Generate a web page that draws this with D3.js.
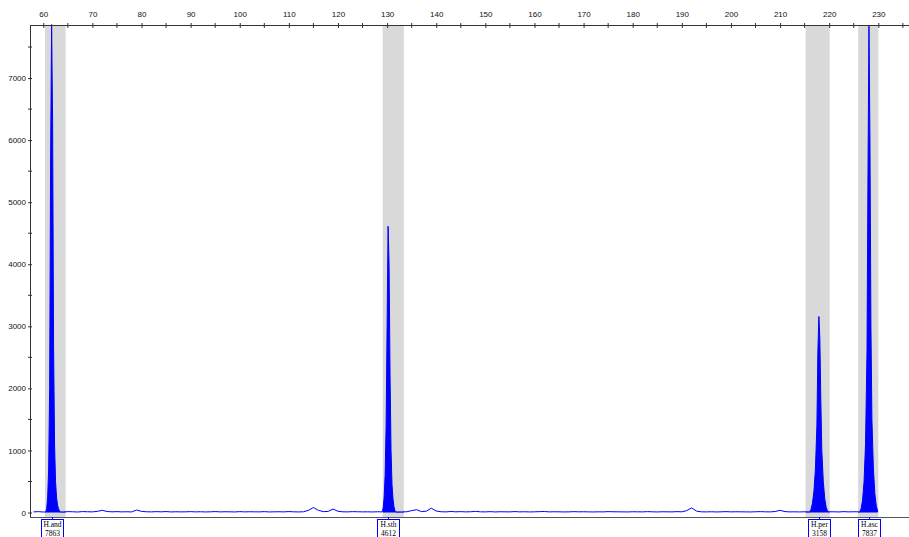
<!DOCTYPE html>
<html>
<head>
<meta charset="utf-8">
<script src="https://cdn.jsdelivr.net/npm/d3@7"></script>
<style>
  body { margin: 0; background: #fff; }
  svg { display: block; }
  .axis text { font-family: "Liberation Sans", Arial, sans-serif; font-size: 8px; fill: #111; }
  .axis line, .axis path { stroke: #333; }
  .lbl text { font-family: "Liberation Serif", "Times New Roman", serif; font-size: 7.5px; fill: #000; }
</style>
</head>
<body>
<svg id="chart" width="909" height="537"></svg>
<script>
// size axis ticks (bp) and RFU ticks
const sizeTicks = [60, 70, 80, 90, 100, 110, 120, 130, 140, 150, 160, 170, 180, 190, 200, 210, 220, 230];
const sizeMinor = [65, 75, 85, 95, 105, 115, 125, 135, 145, 155, 165, 175, 185, 195, 205, 215, 225, 235];
const rfuTicks = [0, 1000, 2000, 3000, 4000, 5000, 6000, 7000];
const rfuMinor = [500, 1500, 2500, 3500, 4500, 5500, 6500, 7500];

// bins (grey windows) in bp
const bins = [[60.35, 64.56], [129.1, 133.4], [215.2, 220.1], [225.9, 230.0]];

// called peaks
const peakNames = ["H.and", "H.sth", "H.per", "H.asc"];
const peakSizes = [61.7, 130.2, 217.9, 228.1];
const peakHeights = [7863, 4612, 3158, 7837];

// baseline trace, one reading per bp from 58 to 236
const baseStart = 58;
const baseRfu = [
  10, 14, 8, 12, 16, 11, 9, 14, 12, 8, 15, 12, 10, 18, 35, 16, 11, 14, 10, 12,
  9, 40, 18, 12, 10, 14, 11, 15, 9, 12, 10, 11, 14, 10, 12, 9, 11, 15, 10, 12,
  11, 9, 14, 10, 12, 11, 10, 14, 9, 11, 12, 10, 15, 11, 9, 12, 35, 80, 36, 14,
  18, 55, 20, 11, 10, 14, 12, 10, 11, 9, 12, 14, 10, 11, 9, 10, 12, 30, 45, 14,
  22, 70, 24, 12, 10, 16, 11, 14, 10, 12, 18, 11, 10, 14, 9, 12, 11, 10, 15, 10,
  12, 9, 11, 14, 16, 10, 12, 11, 9, 10, 14, 11, 12, 10, 9, 11, 10, 14, 12, 11,
  10, 9, 12, 11, 10, 14, 11, 9, 12, 11, 10, 14, 11, 30, 75, 22, 11, 10, 12, 9,
  11, 14, 10, 12, 11, 10, 9, 12, 14, 11, 10, 16, 35, 14, 10, 11, 9, 12, 10, 14,
  11, 10, 12, 11, 9, 14, 10, 12, 11
];

// peak profiles [bp, rfu]
const peak1 = [[60.5, 10], [60.7, 60], [60.9, 250], [61.1, 700], [61.3, 2000], [61.5, 5800], [61.7, 7863], [61.9, 6300],
  [62.1, 2700], [62.3, 1100], [62.5, 500], [62.7, 250], [62.9, 120], [63.1, 60], [63.3, 30], [63.5, 10]];
const peak2 = [[129.0, 10], [129.2, 80], [129.4, 250], [129.6, 600], [129.8, 1400], [130.0, 3000], [130.2, 4612], [130.4, 4000],
  [130.6, 2200], [130.8, 1000], [131.0, 450], [131.2, 220], [131.4, 90], [131.6, 30], [131.8, 10]];
const peak3 = [[216.0, 10], [216.3, 50], [216.6, 150], [216.9, 350], [217.2, 700], [217.5, 1400], [217.7, 2600], [217.9, 3158],
  [218.1, 2800], [218.3, 1800], [218.5, 1000], [218.8, 500], [219.1, 220], [219.4, 80], [219.7, 15]];
const peak4 = [[226.2, 10], [226.5, 60], [226.8, 200], [227.1, 500], [227.4, 1100], [227.7, 2600], [227.9, 5500], [228.1, 7837],
  [228.3, 6000], [228.5, 3000], [228.7, 1500], [229.0, 700], [229.3, 300], [229.6, 100], [229.9, 15]];
const peaks = [peak1, peak2, peak3, peak4];

const W = 909, H = 537;
const x0 = 30, yTop = 25, yBottom = 517;

const svg = d3.select("#chart");

const xScale = d3.scaleLinear().domain([57.3, 236.25]).range([x0, W]);
const yScale = d3.scaleLinear().domain([0, 7855]).range([512.5, yTop]);

// build the trace: baseline readings outside peaks, plus peak profiles
let trace = baseRfu.map((v, i) => [baseStart + i, v])
  .filter(d => !peaks.some(p => d[0] >= p[0][0] && d[0] <= p[p.length - 1][0]));
peaks.forEach(p => { trace = trace.concat(p); });
trace.sort((a, b) => a[0] - b[0]);

// grey bins
svg.append("g").selectAll("rect")
  .data(bins)
  .join("rect")
  .attr("x", d => xScale(d[0]))
  .attr("width", d => xScale(d[1]) - xScale(d[0]))
  .attr("y", yTop)
  .attr("height", yBottom - yTop)
  .attr("fill", "#d9d9d9");

// fill under trace only inside bins
const clip = svg.append("clipPath").attr("id", "binclip");
clip.selectAll("rect")
  .data(bins)
  .join("rect")
  .attr("x", d => xScale(d[0]))
  .attr("width", d => xScale(d[1]) - xScale(d[0]))
  .attr("y", 0)
  .attr("height", H);

const area = d3.area()
  .x(d => xScale(d[0]))
  .y0(yScale(0))
  .y1(d => yScale(d[1]));

const line = d3.line()
  .x(d => xScale(d[0]))
  .y(d => yScale(d[1]));

svg.append("path")
  .datum(trace)
  .attr("clip-path", "url(#binclip)")
  .attr("d", area)
  .attr("fill", "#0000ff");

svg.append("path")
  .datum(trace)
  .attr("d", line)
  .attr("fill", "none")
  .attr("stroke", "#0000ff")
  .attr("stroke-width", 1);

// top size axis
const topAxis = svg.append("g").attr("class", "axis").attr("transform", `translate(0,${yTop})`);
topAxis.call(d3.axisTop(xScale).tickValues(sizeTicks).tickSize(3).tickPadding(5).tickFormat(d3.format("d")));
topAxis.select(".domain").remove();
topAxis.selectAll(".tick line").attr("y2", -2).attr("y1", 3);
topAxis.selectAll(".minor")
  .data(sizeMinor)
  .join("line")
  .attr("class", "minor")
  .attr("x1", d => xScale(d)).attr("x2", d => xScale(d))
  .attr("y1", -2).attr("y2", 3);
topAxis.append("line")
  .attr("x1", x0).attr("x2", W)
  .attr("y1", 0.5).attr("y2", 0.5);

// left rfu axis
const leftAxis = svg.append("g").attr("class", "axis").attr("transform", `translate(${x0},0)`);
leftAxis.call(d3.axisLeft(yScale).tickValues(rfuTicks).tickSize(2).tickPadding(2).tickFormat(d3.format("d")));
leftAxis.select(".domain").remove();
leftAxis.selectAll(".tick line").attr("x1", 2).attr("x2", -2);
leftAxis.selectAll(".minor")
  .data(rfuMinor)
  .join("line")
  .attr("class", "minor")
  .attr("x1", -2).attr("x2", 2)
  .attr("y1", d => yScale(d)).attr("y2", d => yScale(d));
leftAxis.append("line")
  .attr("x1", 0.5).attr("x2", 0.5)
  .attr("y1", yTop).attr("y2", yBottom);

// bottom line
svg.append("line")
  .attr("x1", x0).attr("x2", W)
  .attr("y1", yBottom + 0.5).attr("y2", yBottom + 0.5)
  .attr("stroke", "#555");

// peak label boxes
const labels = svg.append("g").attr("class", "lbl")
  .selectAll("g")
  .data(peakNames.map((n, i) => ({ name: n, size: peakSizes[i], height: peakHeights[i] })))
  .join("g")
  .attr("transform", d => `translate(${Math.round(xScale(d.size))},0)`);

labels.append("line")
  .attr("x1", 0.5).attr("x2", 0.5)
  .attr("y1", yBottom).attr("y2", 520)
  .attr("stroke", "#0000ff");
labels.append("rect")
  .attr("x", -10.5).attr("y", 519.5)
  .attr("width", 22).attr("height", 30)
  .attr("fill", "#fff")
  .attr("stroke", "#0000ff");
labels.append("text")
  .attr("x", 0.5).attr("y", 526.5)
  .attr("text-anchor", "middle")
  .text(d => d.name);
labels.append("text")
  .attr("x", 0.5).attr("y", 535.5)
  .attr("text-anchor", "middle")
  .text(d => d.height);
</script>
</body>
</html>
